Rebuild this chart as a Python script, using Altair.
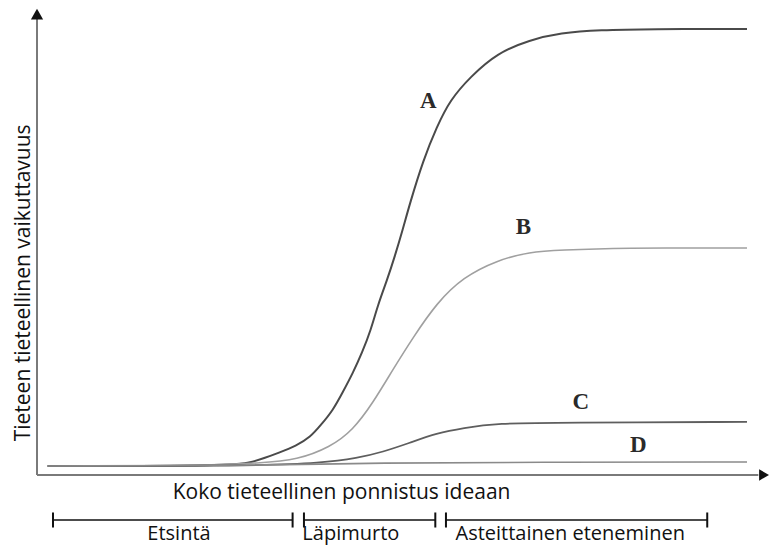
import altair as alt
import pandas as pd

# ---- curve data (effort units 0..100, impact units 0..100) ----
a_x = [1.5, 16, 23, 27, 30, 32, 34, 36.5, 38.5, 40, 41.7, 43, 44.5, 45.8, 47, 48, 49.3, 50.4, 51.5, 52.5, 54.4, 56.3, 58.2, 61, 64.8, 69.4, 73.7, 79.3, 86.3, 100]
a_y = [0, 0, 0.1, 0.3, 0.7, 1.8, 3, 4.6, 6.6, 9.4, 12.8, 16.7, 21.3, 26, 31, 36.8, 42.5, 48, 54, 60, 70, 77.6, 83.8, 89, 94.5, 97.5, 99.1, 99.8, 100, 100]
b_x = [1.5, 22, 31.8, 36.6, 41.3, 44.5, 47.3, 50.1, 53, 56.3, 60, 64.8, 69.4, 73.7, 82, 100]
b_y = [0, 0, 0.7, 1.4, 4.3, 8.2, 14.4, 22, 29.5, 37.3, 43.2, 47.1, 49, 49.4, 49.9, 49.9]
c_x = [1.5, 30, 40.3, 45.1, 48.7, 52.5, 56.3, 60, 64.8, 73.7, 100]
c_y = [0, 0, 0.7, 1.8, 3.2, 5.3, 7.5, 8.7, 9.8, 9.9, 10.1]
d_x = [1.5, 36.6, 45.9, 73.7, 100]
d_y = [0, 0.2, 0.7, 0.9, 0.9]

series_names = ["A", "B", "C", "D"]
series_colors = ["#4a4a4a", "#a0a0a0", "#5e5e5e", "#8a8a8a"]
series_widths = [2.0, 1.6, 1.8, 1.6]

label_x = [55.1, 68.5, 76.6, 84.7]
label_y = [83.6, 54.7, 14.6, 4.7]

# ---- phases under the x axis ----
phase_names = ["Etsintä", "Läpimurto", "Asteittainen eteneminen"]
phase_start = [2.25, 37.6, 57.6]
phase_end = [36.0, 56.1, 94.4]
phase_label_x = [20.0, 44.2, 75.1]
phase_label_y = [-16.9, -17.0, -16.9]
phase_bar_y = -12.36
phase_tick = 1.72

x_title = "Koko tieteellinen ponnistus ideaan"
y_title = "Tieteen tieteellinen vaikuttavuus"

X_DOM = [-4.085, 103.24]
Y_DOM = [-18.31, 104.81]
AXIS_Y = -2.06
AXIS_TOP = 102.5

rows = []
for name, xs, ys in zip(series_names, [a_x, b_x, c_x, d_x], [a_y, b_y, c_y, d_y]):
    for i, (xv, yv) in enumerate(zip(xs, ys)):
        rows.append({"series": name, "x": xv, "y": yv, "i": i})
curves = pd.DataFrame(rows)

xs = alt.Scale(domain=X_DOM, nice=False, zero=False)
ys = alt.Scale(domain=Y_DOM, nice=False, zero=False)
X = lambda f: alt.X(f, type="quantitative", scale=xs, axis=None)
Y = lambda f: alt.Y(f, type="quantitative", scale=ys, axis=None)

layers = []
for name, col, w in zip(series_names, series_colors, series_widths):
    layers.append(
        alt.Chart(curves[curves.series == name])
        .mark_line(interpolate="basis", color=col, strokeWidth=w)
        .encode(x=X("x"), y=Y("y"), order="i:Q")
    )

axes_df = pd.DataFrame({
    "x": [0, 0], "x2": [0, 101.6],
    "y": [AXIS_Y, AXIS_Y], "y2": [AXIS_TOP, AXIS_Y],
})
axis_lines = alt.Chart(axes_df).mark_rule(color="#7a7a7a", strokeWidth=2).encode(
    x=X("x"), x2="x2:Q", y=Y("y"), y2="y2:Q")

arrow_up = alt.Chart(pd.DataFrame({"x": [0], "y": [103.4]})).mark_point(
    shape="triangle-up", filled=True, color="#111", size=150, opacity=1).encode(x=X("x"), y=Y("y"))
arrow_right = alt.Chart(pd.DataFrame({"x": [102.4], "y": [AXIS_Y]})).mark_point(
    shape="triangle-right", filled=True, color="#111", size=130, opacity=1).encode(x=X("x"), y=Y("y"))

lab_df = pd.DataFrame({"t": series_names, "x": label_x, "y": label_y})
labels = alt.Chart(lab_df).mark_text(font="Liberation Serif", fontSize=23, fontWeight="bold",
                                     color="#2a2a2a").encode(x=X("x"), y=Y("y"), text="t:N")

ph_df = pd.DataFrame({"x": phase_start, "x2": phase_end, "y": [phase_bar_y] * 3,
                      "lx": phase_label_x, "ly": phase_label_y, "t": phase_names})
ph_lines = alt.Chart(ph_df).mark_rule(color="#111", strokeWidth=1.6).encode(
    x=X("x"), x2="x2:Q", y=Y("y"))
ticks_df = pd.DataFrame({"x": phase_start + phase_end})
ticks_df["y"] = phase_bar_y - phase_tick
ticks_df["y2"] = phase_bar_y + phase_tick
ph_ticks = alt.Chart(ticks_df).mark_rule(color="#111", strokeWidth=2).encode(
    x=X("x"), y=Y("y"), y2="y2:Q")
ph_text = alt.Chart(ph_df).mark_text(font="Open Sans", fontSize=20, color="#111",
                                     baseline="alphabetic").encode(
    x=X("lx"), y=Y("ly"), text="t:N")

xt = alt.Chart(pd.DataFrame({"x": [42.9], "y": [-7.55], "t": [x_title]})).mark_text(
    font="Open Sans", fontSize=21, color="#111", baseline="alphabetic").encode(
    x=X("x"), y=Y("y"), text="t:N")
yt = alt.Chart(pd.DataFrame({"x": [-1.8], "y": [41.9], "t": [y_title]})).mark_text(
    font="Open Sans", fontSize=21, color="#111", angle=270).encode(x=X("x"), y=Y("y"), text="t:N")

chart = alt.layer(axis_lines, *layers, arrow_up, arrow_right, labels, ph_lines, ph_ticks,
                  ph_text, xt, yt).properties(
    width=762, height=538, padding=0, autosize=alt.AutoSizeParams(type="none")
).configure_view(stroke=None)

chart.save("out.html", embed_options={"renderer": "svg", "actions": False})
